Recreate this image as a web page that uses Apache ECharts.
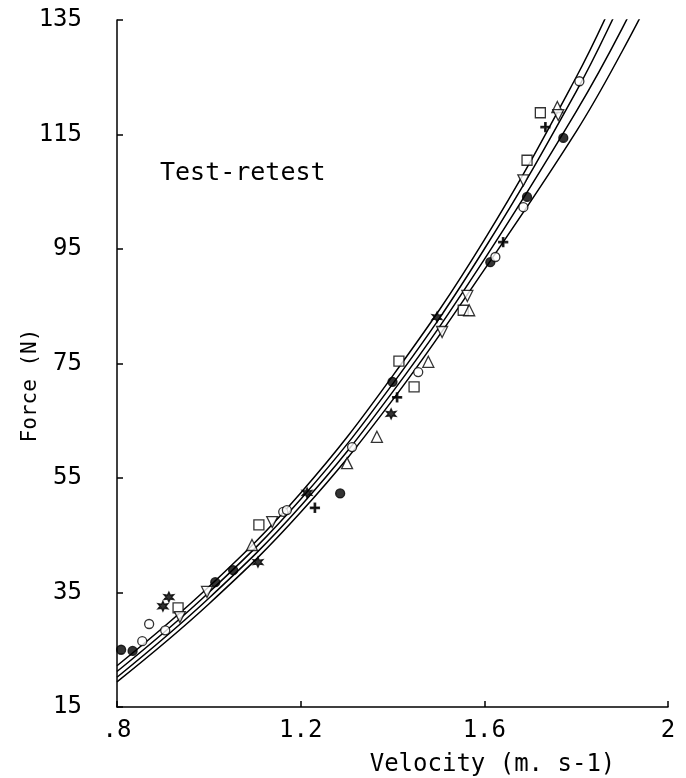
<!DOCTYPE html>
<html>
<head>
<meta charset="utf-8">
<script src="https://cdn.jsdelivr.net/npm/echarts@6/dist/echarts.min.js"></script>
<style>
  html, body { margin: 0; padding: 0; background: #fff; }
  #main { width: 686px; height: 778px; }
</style>
</head>
<body>
<div id="main"></div>
<script>
// fitted curves (velocity in m/s, force in N)
var curveV = [0.8, 1.0, 1.2, 1.4, 1.6, 1.8, 1.9, 2.0];
var curve1F = [22.2, 36.0, 52.4, 72.8, 96.6, 125.0, 141.5, 158];
var curve2F = [21.2, 35.0, 51.3, 71.4, 95.0, 122.5, 138.5, 155];
var curve3F = [20.2, 34.0, 50.1, 70.0, 93.2, 119.0, 133.5, 150];
var curve4F = [19.4, 33.0, 49.0, 68.6, 91.4, 115.5, 129.5, 145];

// measured points, one list per marker
var filledCircle = [[0.809, 25.0], [0.834, 24.8], [1.014, 36.8], [1.053, 38.9], [1.286, 52.3],
    [1.40, 71.8], [1.613, 92.7], [1.693, 104.1], [1.772, 114.4]];
var openCircle = [[0.855, 26.5], [0.870, 29.5], [0.905, 28.4], [1.162, 49.1], [1.170, 49.4],
    [1.312, 60.4], [1.456, 73.5], [1.624, 93.6], [1.685, 102.3], [1.807, 124.3]];
var openSquare = [[0.933, 32.3], [1.109, 46.8], [1.414, 75.4], [1.447, 70.9], [1.554, 84.3],
    [1.693, 110.5], [1.722, 118.8]];
var openTriangle = [[1.094, 43.3], [1.301, 57.6], [1.366, 62.2], [1.478, 75.3], [1.567, 84.3],
    [1.759, 119.8]];
var downTriangle = [[0.937, 30.7], [0.996, 35.1], [1.138, 47.3], [1.508, 80.5], [1.563, 86.8],
    [1.685, 107.0], [1.761, 118.4]];
var asterisk = [[0.900, 32.6], [0.913, 34.2], [1.107, 40.3], [1.214, 52.4], [1.397, 66.2],
    [1.497, 83.1]];
var plus = [[1.231, 49.8], [1.410, 69.1], [1.641, 96.2], [1.733, 116.3]];

var yTicks = [15, 135, 20]; // min, max, step
var xTicks = [0.8, 2.0, 0.4];

var font = 'DejaVu Sans Mono';

function pairs(xs, ys) {
    return xs.map(function (x, i) { return [x, ys[i]]; });
}

function curve(ys) {
    return {
        type: 'line',
        data: pairs(curveV, ys),
        smooth: 0.4,
        showSymbol: false,
        silent: true,
        z: 2,
        lineStyle: { color: '#000', width: 1.5 }
    };
}

function marks(data, symbol, size, fill, rotate) {
    return {
        type: 'scatter',
        data: data,
        symbol: symbol,
        symbolSize: size,
        symbolRotate: rotate || 0,
        z: 3,
        itemStyle: { color: fill, borderColor: '#000', borderWidth: 1.3 }
    };
}

var starPath = 'path://M5,0L6.2,3L9.3,2.5L7.4,5L9.3,7.5L6.2,7L5,10L3.8,7L0.7,7.5L2.6,5L0.7,2.5L3.8,3Z';
var plusPath = 'path://M4.2,0H5.8V4.2H10V5.8H5.8V10H4.2V5.8H0V4.2H4.2Z';

var option = {
    backgroundColor: '#fff',
    animation: false,
    grid: { left: 117, right: 18, top: 20, bottom: 71, outerBoundsMode: 'none' },
    xAxis: {
        type: 'value',
        min: xTicks[0], max: xTicks[1], interval: xTicks[2],
        name: 'Velocity (m. s-1)',
        nameLocation: 'middle',
        nameGap: 46,
        nameMoveOverlap: false,
        nameTextStyle: { fontFamily: font, fontSize: 24, color: '#000', padding: [0, 0, 0, 200] },
        axisLine: { lineStyle: { color: '#000', width: 1.5 } },
        axisTick: { inside: true, length: 6, lineStyle: { color: '#000', width: 1.5 } },
        splitLine: { show: false },
        axisLabel: {
            color: '#000', fontFamily: font, fontSize: 24, margin: 12,
            formatter: function (v) {
                var s = String(+(+v).toFixed(1));
                return s.charAt(0) === '0' ? s.slice(1) : s;
            }
        }
    },
    yAxis: {
        type: 'value',
        min: yTicks[0], max: yTicks[1], interval: yTicks[2],
        name: 'Force (N)',
        nameLocation: 'middle',
        nameGap: 76,
        nameMoveOverlap: false,
        nameTextStyle: { fontFamily: font, fontSize: 21, color: '#000', padding: [0, 44, 0, 0] },
        axisLine: { show: true, lineStyle: { color: '#000', width: 1.5 } },
        axisTick: { show: true, inside: true, length: 6, lineStyle: { color: '#000', width: 1.5 } },
        splitLine: { show: false },
        axisLabel: { color: '#000', fontFamily: font, fontSize: 24, margin: 35 }
    },
    graphic: [{
        type: 'text',
        left: 160,
        top: 161,
        style: { text: 'Test-retest', fontFamily: font, fontSize: 25, fill: '#000' }
    }],
    series: [
        curve(curve1F),
        curve(curve2F),
        curve(curve3F),
        curve(curve4F),
        marks(filledCircle, 'circle', 9, '#000'),
        marks(openCircle, 'circle', 9, '#fff'),
        marks(openSquare, 'rect', 10, '#fff'),
        marks(openTriangle, 'triangle', 11, '#fff'),
        marks(downTriangle, 'triangle', 11, '#fff', 180),
        marks(asterisk, starPath, 10, '#000'),
        marks(plus, plusPath, 9, '#000')
    ]
};

echarts.init(document.getElementById('main')).setOption(option);
</script>
</body>
</html>
